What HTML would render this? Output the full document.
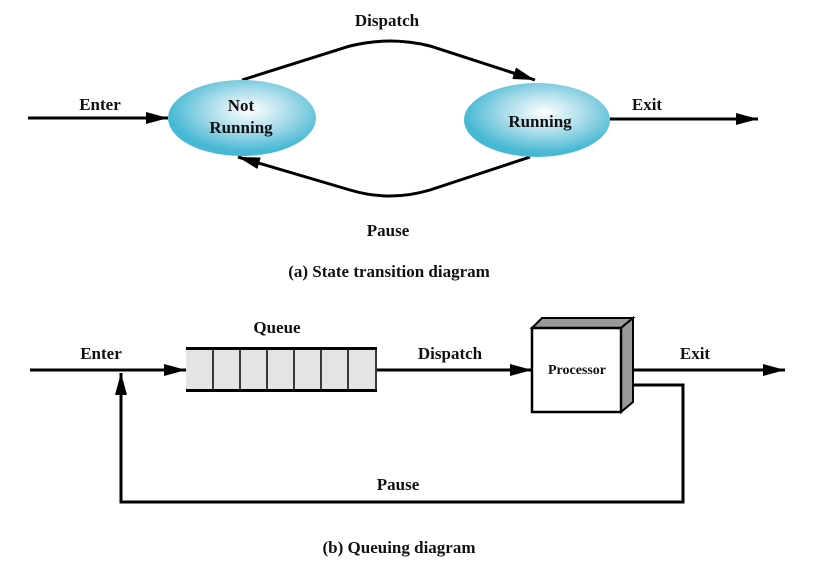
<!DOCTYPE html>
<html><head><style>
html,body{margin:0;padding:0;background:#fff;}
svg text{font-family:"Liberation Serif",serif;font-weight:bold;fill:#111;}
</style></head><body>
<svg width="830" height="570" viewBox="0 0 830 570" xmlns="http://www.w3.org/2000/svg">
<defs>
<radialGradient id="g" cx="0.55" cy="0.4" r="0.55">
<stop offset="0" stop-color="#ffffff"/><stop offset="0.5" stop-color="#a9dcea"/><stop offset="1" stop-color="#45b8d3"/>
</radialGradient>
<marker id="b" markerWidth="22" markerHeight="12" refX="22" refY="6" orient="auto" markerUnits="userSpaceOnUse">
<path d="M0,0 L22,6 L0,12 z" fill="#000"/></marker>
</defs>
<g stroke="#000" stroke-width="3" fill="none">
<line x1="28" y1="118" x2="168" y2="118" marker-end="url(#b)"/>
<line x1="610" y1="119" x2="758" y2="119" marker-end="url(#b)"/>
<path d="M242,80 L350,46 Q390,36 430,46 L535,80" marker-end="url(#b)"/>
<path d="M530,157 L430,190 Q390,202 350,190 L238,157" marker-end="url(#b)"/>
</g>
<ellipse cx="242" cy="118" rx="74" ry="38" fill="url(#g)"/>
<ellipse cx="537" cy="120" rx="73" ry="37" fill="url(#g)"/>
<text x="241" y="111" font-size="17" text-anchor="middle">Not</text>
<text x="241" y="133" font-size="17" text-anchor="middle">Running</text>
<text x="540" y="127" font-size="17" text-anchor="middle">Running</text>
<text x="387" y="26" font-size="17" text-anchor="middle">Dispatch</text>
<text x="100" y="110" font-size="17" text-anchor="middle">Enter</text>
<text x="647" y="110" font-size="17" text-anchor="middle">Exit</text>
<text x="388" y="236" font-size="17" text-anchor="middle">Pause</text>
<text x="389" y="277" font-size="17" text-anchor="middle">(a) State transition diagram</text>

<g stroke="#000" stroke-width="3" fill="none">
<line x1="30" y1="370" x2="186" y2="370" marker-end="url(#b)"/>
<line x1="377" y1="370" x2="532" y2="370" marker-end="url(#b)"/>
<line x1="621" y1="370" x2="785" y2="370" marker-end="url(#b)"/>
<path d="M621,385 L683,385 L683,502 L121,502 L121,373" marker-end="url(#b)"/>
</g>
<rect x="186" y="348" width="191" height="43" fill="#e4e4e4"/>
<g stroke="#000" stroke-width="1.5">
<line x1="213" y1="349" x2="213" y2="390"/><line x1="240" y1="349" x2="240" y2="390"/>
<line x1="267" y1="349" x2="267" y2="390"/><line x1="294" y1="349" x2="294" y2="390"/>
<line x1="321" y1="349" x2="321" y2="390"/><line x1="348" y1="349" x2="348" y2="390"/>
<line x1="376" y1="349" x2="376" y2="390"/>
</g>
<line x1="186" y1="348.5" x2="377" y2="348.5" stroke="#000" stroke-width="3"/>
<line x1="186" y1="390.5" x2="377" y2="390.5" stroke="#000" stroke-width="3"/>
<polygon points="532,328 542,318 633,318 621,328" fill="#999" stroke="#000" stroke-width="2"/>
<polygon points="621,328 633,318 633,402 621,412" fill="#999" stroke="#000" stroke-width="2"/>
<rect x="532" y="328" width="89" height="84" fill="#fff" stroke="#000" stroke-width="2.5"/>
<text x="577" y="374" font-size="14" text-anchor="middle">Processor</text>
<text x="277" y="333" font-size="17" text-anchor="middle">Queue</text>
<text x="450" y="359" font-size="17" text-anchor="middle">Dispatch</text>
<text x="101" y="359" font-size="17" text-anchor="middle">Enter</text>
<text x="695" y="359" font-size="17" text-anchor="middle">Exit</text>
<text x="398" y="490" font-size="17" text-anchor="middle">Pause</text>
<text x="399" y="553" font-size="17" text-anchor="middle">(b) Queuing diagram</text>
</svg>
</body></html>
